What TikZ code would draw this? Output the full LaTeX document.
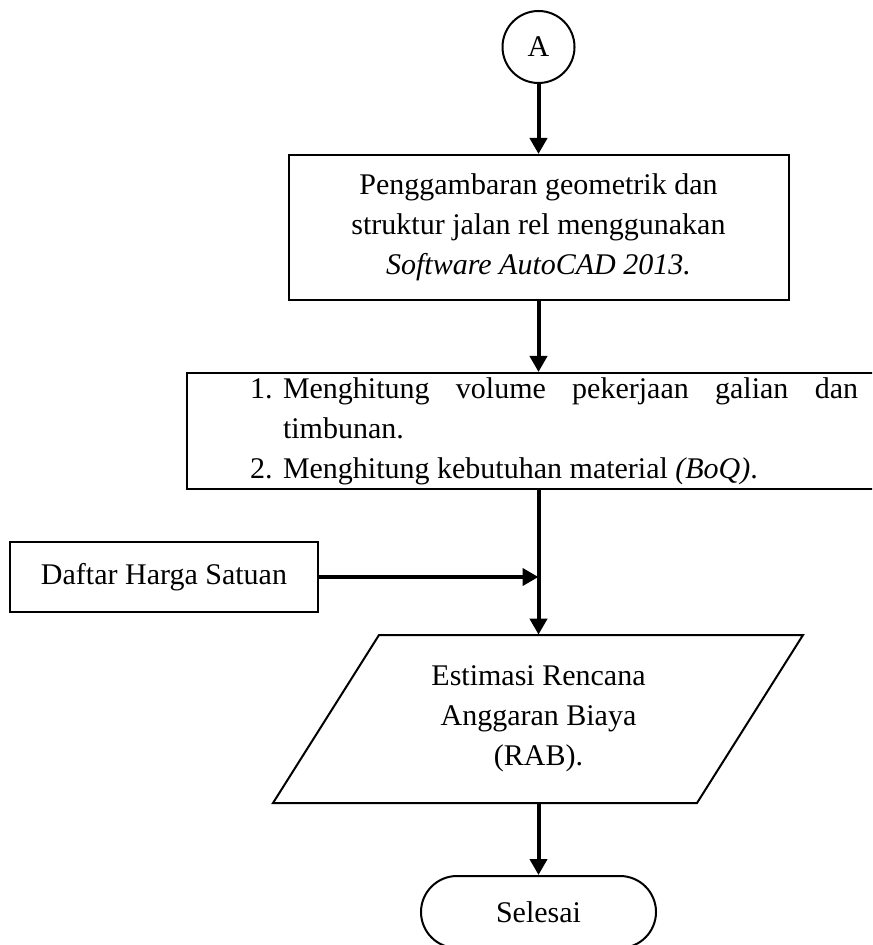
\documentclass[tikz,border=0pt]{standalone}
\usepackage{fontspec}
\setmainfont{Liberation Serif}
\usetikzlibrary{arrows.meta, positioning, shapes.geometric, shapes.misc, calc}
\setlength{\parindent}{0pt}

\begin{document}
\begin{tikzpicture}[x=0.5pt, y=-0.5pt,
    every node/.style={font=\fontsize{15}{20}\selectfont},
    kotak/.style={draw, line width=1pt, inner sep=0pt},
    alur/.style={-{Triangle[width=8.5pt, length=8pt]}, line width=2pt}]
    \clip (0,0) rectangle (872,945);
    \useasboundingbox (0,0) rectangle (872,945);
    \node[kotak, circle, minimum size=36pt] (mulai) at (538.5,47) {A};
    \node[kotak, minimum width=250pt, minimum height=72.5pt, align=center] (gambar) at (538.5,227.5)
        {Penggambaran geometrik dan\\struktur jalan rel menggunakan\\\textit{Software AutoCAD 2013.}};
    \node[kotak, text width=304pt, inner xsep=31.5pt, minimum height=58pt, align=justify] (hitung) at (554,431)
        {\makebox[16.5pt][l]{1.}Menghitung volume pekerjaan galian dan\linebreak
        \hspace*{16.5pt}timbunan.\par
        \makebox[16.5pt][l]{2.}Menghitung kebutuhan material \textit{(BoQ)}.};
    \node[kotak, minimum width=154pt, minimum height=35pt] (harga) at (164,577) {Daftar Harga Satuan};
    \node[minimum height=84pt, align=center] (rab) at (538.5,719) {Estimasi Rencana\\Anggaran Biaya\\(RAB).};
    \draw[line width=1pt] (379,635) -- (803,635) -- (697,803) -- (273,803) -- cycle;
    \node[kotak, rounded rectangle, minimum width=117.5pt, minimum height=36pt] (selesai) at (538.5,912) {Selesai};
    \coordinate (temu) at (harga.east -| rab.north);
    \draw[alur] (mulai.south) -- (mulai.south |- gambar.north);
    \draw[alur] (gambar.south) -- (gambar.south |- hitung.north);
    \draw[alur] (hitung.south -| rab.north) -- (rab.north);
    \draw[alur] (harga.east) -- (temu);
    \draw[alur] (rab.south) -- (selesai.north);
\end{tikzpicture}
\end{document}
